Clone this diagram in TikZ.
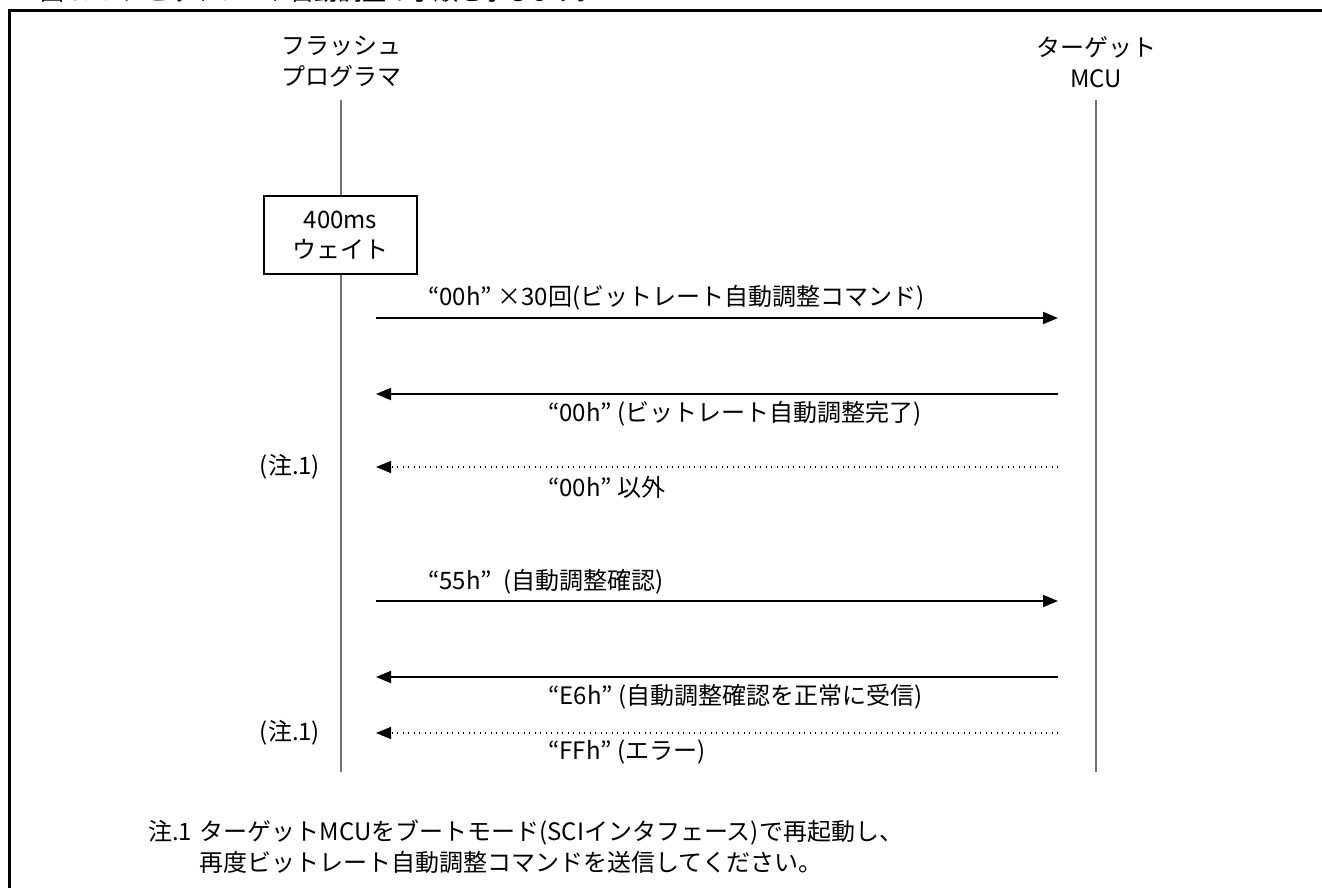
\documentclass[tikz,border=0pt]{standalone}
\usepackage{fontspec}
\setmainfont{Noto Sans CJK JP}
\usetikzlibrary{arrows.meta}
\newcommand{\rqsp}{”\hspace{0.25em}}
\begin{document}
\begin{tikzpicture}[x=1pt,y=-1pt,
  txt/.style={font=\fontsize{24}{31}\selectfont, inner sep=0pt, align=center},
  lbl/.style={font=\fontsize{24}{31}\selectfont, inner sep=0pt, anchor=west},
  life/.style={draw=black!55, line width=1.3pt},
  msg/.style={line width=1.8pt, -{Triangle[length=15pt,width=12pt]}},
  ret/.style={line width=1.1pt, dash pattern=on 1pt off 4.5pt, -{Triangle[length=15pt,width=12pt]}},
  waitbox/.style={draw, line width=1.3pt, fill=white, minimum width=153pt, minimum height=78pt, inner sep=0pt, font=\fontsize{24}{30}\selectfont, align=center}
]
\useasboundingbox (0,0) rectangle (1322,888);
% cut-off caption above the frame
\node[font=\fontsize{24}{28}\selectfont, inner sep=0pt, anchor=base west] (cap) at (40,1) {図 3.1.2にビットレート自動調整の手順を示します。};
% frame
\draw[line width=3pt] (9.5,900) -- (9.5,11) -- (1340,11);
% headers
\node[txt] (hf) at (341,62) {フラッシュ\\プログラマ};
\node[txt] (ht) at (1096,62) {ターゲット\\MCU};
% lifelines
\coordinate (lf0) at (341,100); \coordinate (lf1) at (341,772);
\coordinate (lt0) at (1096,100); \coordinate (lt1) at (1096,772);
\draw[life] (lf0) -- (lf1);
\draw[life] (lt0) -- (lt1);
% wait box
\node[waitbox] (wait) at (340.5,235) {400ms\\ウェイト};
% message end points
\foreach \n/\y in {1/318,2/394,3/467,4/601,5/677,6/733}{
  \coordinate (a\n) at (376,\y);
  \coordinate (b\n) at (1058,\y);
}
\draw[msg] (a1) -- (b1);
\draw[msg] (b2) -- (a2);
\draw[ret] (b3) -- (a3);
\draw[msg] (a4) -- (b4);
\draw[msg] (b5) -- (a5);
\draw[ret] (b6) -- (a6);
% labels
\node[lbl] (l1) at (428,298) {“00h\rqsp ×30回(ビットレート自動調整コマンド)};
\node[lbl] (l2) at (548,414) {“00h\rqsp (ビットレート自動調整完了)};
\node[lbl] (l3) at (548,487) {“00h\rqsp 以外};
\node[lbl] (l4) at (428,582) {“55h\rqsp\ (自動調整確認)};
\node[lbl] (l5) at (548,697) {“E6h\rqsp (自動調整確認を正常に受信)};
\node[lbl] (l6) at (548,752) {“FFh\rqsp (エラー)};
\node[txt] (n1) at (290,467) {(注.1)};
\node[txt] (n2) at (290,733) {(注.1)};
% footnote
\node[lbl, anchor=base west] (fn) at (148,840) {注.1};
\node[lbl, anchor=base west] (fnt1) at ([xshift=7pt]fn.base east) {ターゲットMCUをブートモード(SCIインタフェース)で再起動し、};
\node[lbl, anchor=base west] (fnt2) at ([yshift=-31pt]fnt1.base west) {再度ビットレート自動調整コマンドを送信してください。};
\end{tikzpicture}
\end{document}
